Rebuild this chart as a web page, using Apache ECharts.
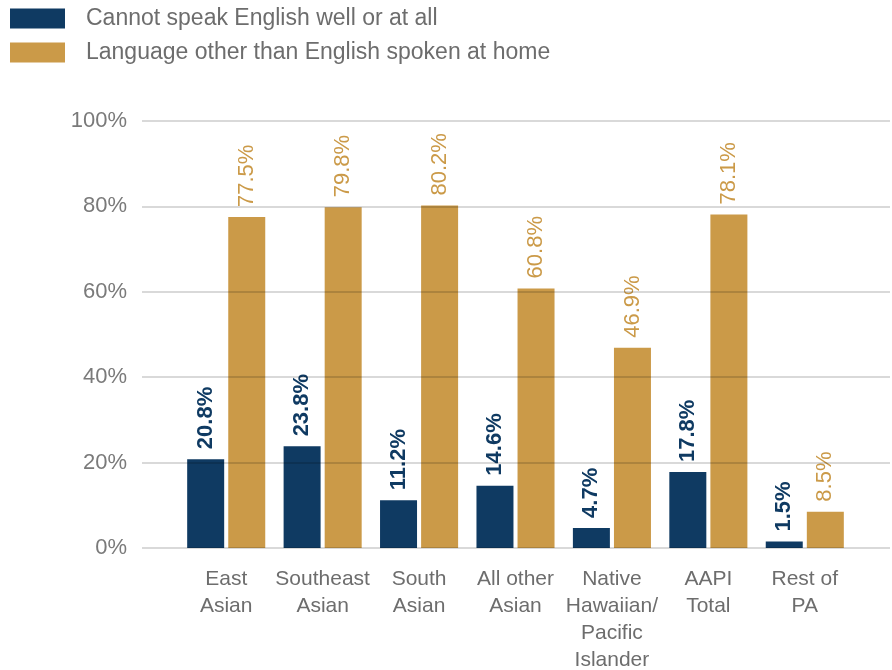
<!DOCTYPE html>
<html>
<head>
<meta charset="utf-8">
<script src="https://cdn.jsdelivr.net/npm/echarts@6/dist/echarts.min.js"></script>
<style>
  html, body { margin: 0; padding: 0; background: #ffffff; }
  #chart { width: 892px; height: 670px; }
</style>
</head>
<body>
<div id="chart"></div>
<script>
// Population groups shown along the x axis
const categories = [
  'East\nAsian',
  'Southeast\nAsian',
  'South\nAsian',
  'All other\nAsian',
  'Native\nHawaiian/\nPacific\nIslander',
  'AAPI\nTotal',
  'Rest of\nPA'
];

// Share of each group (percent)
const cannotSpeakEnglish = [20.8, 23.8, 11.2, 14.6, 4.7, 17.8, 1.5];
const otherLanguageAtHome = [77.5, 79.8, 80.2, 60.8, 46.9, 78.1, 8.5];

const seriesNames = [
  'Cannot speak English well or at all',
  'Language other than English spoken at home'
];

const yTicks = [0, 20, 40, 60, 80, 100];

const BLUE = '#0f3a62';
const GOLD = '#cb9a48';
const FONT = '"Liberation Sans", Arial, sans-serif';

const chart = echarts.init(document.getElementById('chart'));

const labelCfg = (color, weight) => ({
  show: true,
  position: 'top',
  rotate: 90,
  align: 'left',
  verticalAlign: 'middle',
  distance: 10,
  color: color,
  fontFamily: FONT,
  fontSize: 22,
  fontWeight: weight,
  formatter: p => p.value.toFixed(1) + '%'
});

chart.setOption({
  animation: false,
  textStyle: { fontFamily: FONT },
  legend: {
    orient: 'vertical',
    left: 5,
    top: 2,
    itemWidth: 55,
    itemHeight: 20,
    itemGap: 11,
    icon: 'rect',
    textStyle: { fontSize: 23, lineHeight: 20, color: '#6d6d6d', fontFamily: FONT, padding: [0, 0, 0, 16] },
    data: seriesNames
  },
  grid: [
    // full-width grid carrying the y scale and gridlines
    { left: 142, right: 2, top: 121, bottom: 122, outerBoundsMode: 'none', containLabel: false },
    // grid carrying the bars
    { left: 178, right: 39, top: 121, bottom: 122, outerBoundsMode: 'none', containLabel: false }
  ],
  xAxis: [
    { gridIndex: 0, type: 'category', data: [''], show: false },
    {
      gridIndex: 1,
      type: 'category',
      data: categories,
      axisLine: { show: false },
      axisTick: { show: false },
      axisLabel: {
        margin: 18,
        color: '#6d6d6d',
        fontSize: 21,
        lineHeight: 27,
        fontFamily: FONT,
        interval: 0
      }
    }
  ],
  yAxis: [
    {
      gridIndex: 0,
      type: 'value',
      min: yTicks[0],
      max: yTicks[yTicks.length - 1],
      interval: 20,
      z: 5,
      axisLine: { show: false },
      axisTick: { show: false },
      axisLabel: {
        margin: 15,
        color: '#7a7a7a',
        fontSize: 22,
        fontFamily: FONT,
        formatter: v => v + '%'
      },
      splitLine: { lineStyle: { color: 'rgba(0,0,0,0.15)', width: 2 } }
    },
    {
      gridIndex: 1,
      type: 'value',
      min: yTicks[0],
      max: yTicks[yTicks.length - 1],
      show: false,
      splitLine: { show: false }
    }
  ],
  series: [
    {
      name: seriesNames[0],
      type: 'bar',
      xAxisIndex: 1,
      yAxisIndex: 1,
      data: cannotSpeakEnglish,
      barWidth: 37,
      barGap: '11%',
      itemStyle: { color: BLUE },
      label: labelCfg(BLUE, 'bold')
    },
    {
      name: seriesNames[1],
      type: 'bar',
      xAxisIndex: 1,
      yAxisIndex: 1,
      data: otherLanguageAtHome,
      barWidth: 37,
      itemStyle: { color: GOLD },
      label: labelCfg(GOLD, 'normal')
    }
  ]
});
</script>
</body>
</html>
